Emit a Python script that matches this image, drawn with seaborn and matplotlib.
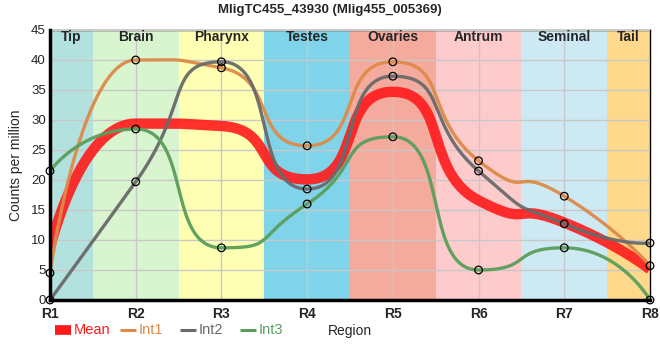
import matplotlib
matplotlib.use("Agg")
import matplotlib.pyplot as plt
import numpy as np
import pandas as pd
import seaborn as sns

regions = ["R1", "R2", "R3", "R4", "R5", "R6", "R7", "R8"]
mean_vals = [8.7, 29.4, 29.0, 20.1, 34.7, 16.6, 12.9, 5.1]
int1_vals = [4.5, 40.0, 38.7, 25.7, 39.7, 23.2, 17.3, 5.7]
int2_vals = [0.0, 19.7, 39.7, 18.5, 37.3, 21.5, 12.7, 9.5]
int3_vals = [21.5, 28.5, 8.7, 16.0, 27.2, 5.0, 8.7, 0.0]

tissues = ["Tip", "Brain", "Pharynx", "Testes", "Ovaries", "Antrum", "Seminal", "Tail"]
tissue_colors = ["#b3e1de", "#d9f5cf", "#ffffb3", "#80d4ea",
                 "#f4aa9c", "#fecbcc", "#cdeaf4", "#fed98b"]


def smooth_curve(y, handle=0.65, n=80):
    # monotone tangents, drawn as bezier segments with long handles;
    # the end points have no handle of their own
    y = np.asarray(y, dtype=float)
    k = len(y)
    d = np.diff(y)
    t = np.zeros(k)
    for i in range(1, k - 1):
        s0, s1 = d[i - 1], d[i]
        p = (s0 + s1) / 2
        t[i] = (np.sign(s0) + np.sign(s1)) * min(abs(s0), abs(s1), 0.5 * abs(p))
    xs, ys = [], []
    s = np.linspace(0, 1, n)
    b0, b1, b2, b3 = (1 - s)**3, 3 * s * (1 - s)**2, 3 * s**2 * (1 - s), s**3
    for i in range(k - 1):
        h0 = 0 if i == 0 else handle
        h1 = 0 if i == k - 2 else handle
        px = [i, i + h0, i + 1 - h1, i + 1]
        py = [y[i], y[i] + h0 * t[i], y[i + 1] - h1 * t[i + 1], y[i + 1]]
        xs.append(b0 * px[0] + b1 * px[1] + b2 * px[2] + b3 * px[3])
        ys.append(b0 * py[0] + b1 * py[1] + b2 * py[2] + b3 * py[3])
    return np.concatenate(xs), np.concatenate(ys)


series = {"Mean": mean_vals, "Int1": int1_vals, "Int2": int2_vals, "Int3": int3_vals}
colors = {"Mean": "#ff1a1a", "Int1": "#dd8a48", "Int2": "#6a6a6a", "Int3": "#5a9e5c"}
widths = {"Mean": 7.5, "Int1": 2.4, "Int2": 2.4, "Int3": 2.4}

sns.set_style("white")
plt.rcParams["font.family"] = ["Liberation Sans", "DejaVu Sans"]

fig = plt.figure(figsize=(6.6, 3.6), dpi=100)
ax = fig.add_axes([50 / 660, 60 / 360, 600 / 660, 270 / 360])

for i, (name, col) in enumerate(zip(tissues, tissue_colors)):
    ax.axvspan(max(i - 0.5, 0), min(i + 0.5, 7), color=col, lw=0, zorder=0)
    ax.text(i if 0 < i < 7 else (0.25 if i == 0 else 6.75), 43.8, name,
            ha="center", va="center", fontsize=10, fontweight="bold", zorder=5)

ax.set_yticks(range(0, 46, 5))
ax.set_xticks(range(len(regions)))
ax.set_xticklabels(regions)
ax.grid(True, color="#c8c8c8", lw=1, zorder=1)
ax.set_axisbelow(False)
for gl in ax.get_xgridlines() + ax.get_ygridlines():
    gl.set_zorder(1)

for name, vals in series.items():
    xs, ys = smooth_curve(vals)
    df = pd.DataFrame({"x": xs, "y": ys})
    sns.lineplot(data=df, x="x", y="y", ax=ax, color=colors[name], lw=widths[name],
                 alpha=0.9 if name == "Mean" else 0.95, zorder=3, sort=False,
                 solid_capstyle="butt", estimator=None)

for name in ["Int1", "Int2", "Int3"]:
    pts = pd.DataFrame({"x": range(len(regions)), "y": series[name]})
    sns.scatterplot(data=pts, x="x", y="y", ax=ax, s=30, facecolor="none",
                    edgecolor="black", linewidth=0.9, zorder=4)
for coll in ax.collections:
    coll.set_clip_on(False)

ax.set_xlim(0, 7)
ax.set_ylim(0, 45)
ax.set_xlabel("")
ax.set_ylabel("Counts per million", fontsize=10, labelpad=6)
ax.tick_params(axis="y", labelsize=9.5, length=0, pad=3)
ax.tick_params(axis="x", labelsize=10, length=0, pad=5)
for lab in ax.get_xticklabels():
    lab.set_fontweight("bold")
for side in ["top", "right"]:
    ax.spines[side].set_linewidth(1)
    ax.spines[side].set_color("black")
for side in ["left", "bottom"]:
    ax.spines[side].set_linewidth(2.5)
    ax.spines[side].set_color("black")
ax.spines["left"].set_zorder(6)
ax.spines["bottom"].set_zorder(6)

fig.text(0.5, 0.972, "MligTC455_43930 (Mlig455_005369)", ha="center", va="center",
         fontsize=9.5, fontweight="bold")

# legend row under the axis
legend_x = [55, 120, 180, 240]
for lx, name in zip(legend_x, ["Mean", "Int1", "Int2", "Int3"]):
    fig.lines.append(plt.Line2D([lx / 660, (lx + 16) / 660], [1 - 330 / 360] * 2,
                                color=colors[name], lw=7 if name == "Mean" else 2.2,
                                transform=fig.transFigure, solid_capstyle="butt"))
    fig.text((lx + 19) / 660, 1 - 330 / 360, name, color=colors[name],
             ha="left", va="center", fontsize=10.5)
fig.text(350 / 660, 1 - 331 / 360, "Region", ha="center", va="center", fontsize=10)

fig.savefig("out.png", dpi=100)
